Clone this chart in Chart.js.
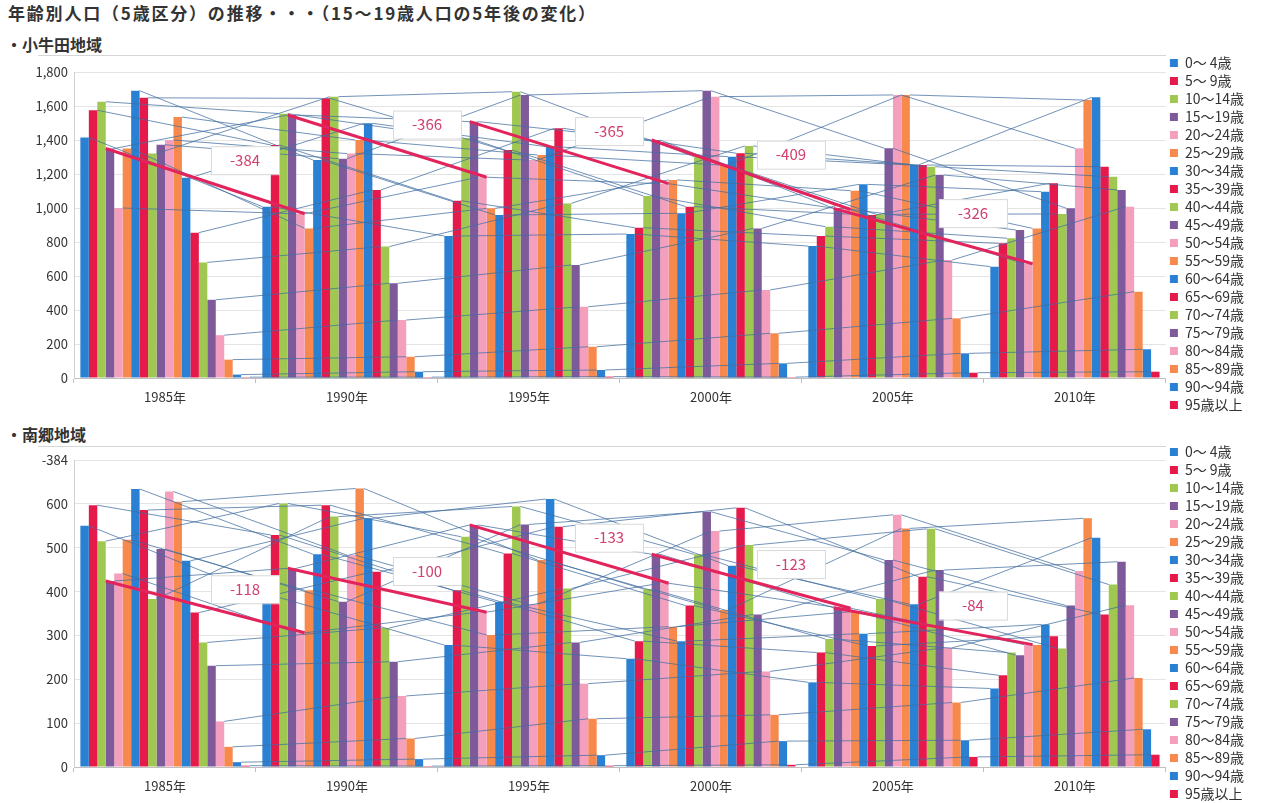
<!DOCTYPE html>
<html lang="ja">
<head>
<meta charset="utf-8">
<script src="https://cdn.jsdelivr.net/npm/chart.js@4"></script>
<style>
  body { margin: 0; width: 1281px; height: 803px; background: #fff; position: relative; overflow: hidden;
         font-family: 'Noto Sans CJK JP', sans-serif; color: #333; }
  .title { position: absolute; left: 8px; top: 0px; font-size: 17px; font-weight: bold; white-space: nowrap; letter-spacing: 1.8px; }
  .sub { position: absolute; left: 6px; font-size: 16px; font-weight: bold; white-space: nowrap; }
  .box { position: absolute; left: 0; width: 1281px; }
  .rule { position: absolute; left: 38px; width: 1128px; border-top: 1px solid #d6d6d6; }
</style>
</head>
<body>
<div class="title">年齢別人口（5歳区分）の推移・・・（15～19歳人口の5年後の変化）</div>
<div class="sub" style="top:32px">・小牛田地域</div>
<div class="rule" style="top:55px"></div>
<div class="box" style="top:50px;height:368px"><canvas id="kogota"></canvas></div>
<div class="sub" style="top:422px">・南郷地域</div>
<div class="rule" style="top:446px"></div>
<div class="box" style="top:440px;height:366px"><canvas id="nango"></canvas></div>
<script>
const years = ['1985年', '1990年', '1995年', '2000年', '2005年', '2010年'];
const ageGroups = ['0～ 4歳', '5～ 9歳', '10～14歳', '15～19歳', '20～24歳', '25～29歳', '30～34歳',
  '35～39歳', '40～44歳', '45～49歳', '50～54歳', '55～59歳', '60～64歳', '65～69歳', '70～74歳',
  '75～79歳', '80～84歳', '85～89歳', '90～94歳', '95歳以上'];

//小牛田地域 - 年ごとの人口 (年齢区分順)
const kogota1985 = [1415, 1575, 1625, 1350, 1000, 1350, 1690, 1648, 1320, 1372, 1400, 1535, 1178, 855, 680, 460, 252, 108, 20, 5];
const kogota1990 = [1008, 1371, 1555, 1547, 966, 880, 1282, 1645, 1655, 1290, 1320, 1400, 1498, 1106, 773, 557, 341, 125, 37, 5];
const kogota1995 = [835, 1043, 1410, 1508, 1181, 998, 959, 1341, 1684, 1665, 1282, 1312, 1361, 1469, 1027, 665, 419, 184, 47, 8];
const kogota2000 = [847, 884, 1071, 1400, 1143, 1165, 969, 1008, 1302, 1690, 1655, 1253, 1302, 1322, 1365, 880, 518, 263, 86, 5];
const kogota2005 = [776, 835, 890, 998, 991, 1102, 1139, 959, 963, 1351, 1665, 1665, 1253, 1253, 1243, 1194, 694, 351, 145, 31];
const kogota2010 = [655, 792, 822, 871, 672, 880, 1096, 1145, 965, 998, 1351, 1635, 1651, 1243, 1184, 1106, 1008, 508, 169, 37];
const kogotaChanges = [-384, -366, -365, -409, -326];

//南郷地域
const nango1985 = [550, 597, 515, 424, 441, 518, 634, 586, 383, 497, 628, 605, 470, 352, 284, 231, 104, 46, 11, 3];
const nango1990 = [392, 529, 601, 453, 306, 403, 485, 597, 571, 377, 483, 635, 567, 445, 317, 240, 162, 65, 18, 2];
const nango1995 = [278, 403, 525, 552, 353, 301, 377, 487, 594, 553, 371, 472, 611, 548, 407, 284, 190, 110, 27, 3];
const nango2000 = [247, 287, 406, 485, 419, 320, 287, 368, 485, 582, 538, 358, 459, 591, 506, 348, 218, 119, 59, 5];
const nango2005 = [193, 261, 292, 363, 362, 354, 304, 276, 383, 472, 575, 544, 371, 434, 543, 449, 272, 147, 61, 23];
const nango2010 = [179, 209, 261, 255, 279, 278, 325, 298, 270, 368, 447, 567, 523, 348, 416, 468, 369, 203, 86, 28];
const nangoChanges = [-118, -100, -133, -123, -84];
//南郷の縦軸の一番上の目盛はテキストボックスで隠れている
const nangoTopTick = '-384';

const seriesColors = ['#2a80d2', '#e5194a', '#a0c850', '#7e5a9b', '#f4a0bd', '#f7894d'];
const font = "'Noto Sans CJK JP', sans-serif";

//年ごとの配列を系列ごとに並べ替える
function buildDatasets(rows) {
  return ageGroups.map((label, s) => ({
    label,
    data: rows.map((row) => row[s]),
    backgroundColor: seriesColors[s % 6],
    borderWidth: 0,
    categoryPercentage: 0.93,
    barPercentage: 1
  }));
}

//同じ系列の棒の頭を結ぶ細い線
const seriesLines = {
  id: 'seriesLines',
  afterDatasetsDraw(chart) {
    const ctx = chart.ctx;
    ctx.save();
    ctx.strokeStyle = 'rgba(66,110,160,0.75)';
    ctx.lineWidth = 1;
    chart.data.datasets.forEach((ds, d) => {
      const bars = chart.getDatasetMeta(d).data;
      ctx.beginPath();
      for (let i = 0; i < bars.length - 1; i++) {
        ctx.moveTo(bars[i].x + bars[i].width / 2, bars[i].y);
        ctx.lineTo(bars[i + 1].x - bars[i + 1].width / 2, bars[i + 1].y);
      }
      ctx.stroke();
    });
    ctx.restore();
  }
};

//15～19歳 → 5年後の20～24歳 の赤い線とラベル
const cohort = {
  id: 'cohort',
  afterDatasetsDraw(chart, args, opts) {
    const ctx = chart.ctx;
    const from = chart.getDatasetMeta(3).data;
    const to = chart.getDatasetMeta(4).data;
    ctx.save();
    opts.changes.forEach((change, i) => {
      const a = from[i];
      const b = to[i + 1];
      const x0 = a.x - a.width / 2, y0 = a.y;
      const x1 = b.x + b.width / 2, y1 = b.y;
      ctx.strokeStyle = '#e3245c';
      ctx.lineWidth = 3;
      ctx.beginPath();
      ctx.moveTo(x0, y0);
      ctx.lineTo(x1, y1);
      ctx.stroke();

      const lx = x0 + (x1 - x0) * 0.7;
      const ly = y0 + (y1 - y0) * 0.7 + opts.offset;
      ctx.fillStyle = '#fff';
      ctx.fillRect(lx - 34, ly - 14, 68, 28);
      ctx.strokeStyle = '#dadada';
      ctx.lineWidth = 1;
      ctx.strokeRect(lx - 34 + 0.5, ly - 14 + 0.5, 68, 28);
      ctx.fillStyle = '#d2416e';
      ctx.font = '15px ' + font;
      ctx.textAlign = 'center';
      ctx.textBaseline = 'middle';
      ctx.fillText(String(change), lx, ly);
    });
    ctx.restore();
  }
};

function drawChart(id, rows, changes, yMax, yStep, topGap, axisHeight, labelOffset, tickText) {
  new Chart(document.getElementById(id), {
    type: 'bar',
    data: { labels: years, datasets: buildDatasets(rows) },
    plugins: [seriesLines, cohort],
    options: {
      responsive: true,
      maintainAspectRatio: false,
      animation: false,
      layout: { padding: { right: 27 } },
      plugins: {
        title: { display: true, text: ' ', fullSize: false, font: { size: 10 }, padding: { top: topGap - 12, bottom: 0 } },
        legend: {
          position: 'right',
          labels: { boxWidth: 8, boxHeight: 8, padding: 4, color: '#333', font: { size: 14, family: font } }
        },
        tooltip: { enabled: false },
        cohort: { changes, offset: labelOffset }
      },
      scales: {
        x: {
          grid: { drawOnChartArea: false, offset: true, tickLength: 5, color: '#bfbfbf' },
          border: { color: '#bfbfbf' },
          ticks: { color: '#333', padding: 6, font: { size: 13, family: font } },
          afterFit: (axis) => { axis.height = axisHeight; }
        },
        y: {
          min: 0,
          max: yMax,
          grid: { color: '#e4e4e4', drawTicks: false },
          border: { color: '#d0d0d0' },
          ticks: {
            stepSize: yStep,
            padding: 6,
            color: '#333',
            font: { size: 13, family: font },
            callback: (v) => (v === yMax && tickText ? tickText : v.toLocaleString('en-US'))
          },
          afterFit: (axis) => { axis.width = 74; }
        }
      }
    }
  });
}

drawChart('kogota', [kogota1985, kogota1990, kogota1995, kogota2000, kogota2005, kogota2010],
  kogotaChanges, 1800, 200, 22, 40, -34, null);
drawChart('nango', [nango1985, nango1990, nango1995, nango2000, nango2005, nango2010],
  nangoChanges, 700, 100, 20, 39, -28, nangoTopTick);
</script>
</body>
</html>
